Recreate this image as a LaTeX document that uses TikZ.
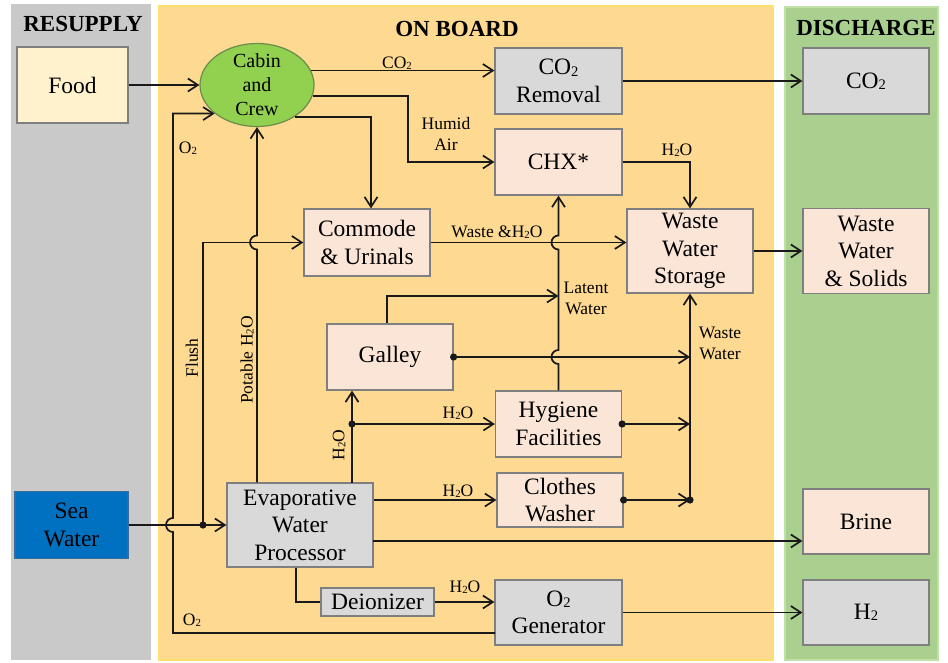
\documentclass[tikz,border=0pt]{standalone}
\usepackage{fontspec}
\setmainfont{Liberation Serif}
\newfontfamily\myserif{Liberation Serif}
\usetikzlibrary{arrows.meta,shapes.geometric,calc}
\definecolor{resup}{HTML}{C9C9C9}
\definecolor{onboard}{HTML}{FED991}
\definecolor{onboardedge}{HTML}{FFE070}
\definecolor{disch}{HTML}{A9D08E}
\definecolor{dischedge}{HTML}{C0E0A8}
\definecolor{gbox}{HTML}{D9D9D9}
\definecolor{pbox}{HTML}{FBE5D6}
\definecolor{ybox}{HTML}{FFF2CC}
\definecolor{bedge}{HTML}{7F7F7F}
\definecolor{crew}{HTML}{92D050}
\definecolor{crewedge}{HTML}{6A8C4C}
\definecolor{sea}{HTML}{0070C0}
\definecolor{seaedge}{HTML}{3A6A99}
\newcommand{\mysub}[1]{\raisebox{-0.12ex}{\scalebox{0.62}{#1}}}
\newcommand{\myboxfont}{\myserif\fontsize{23.5}{27.5}\selectfont}
\newcommand{\mycrewfont}{\myserif\fontsize{20}{24}\selectfont}
\newcommand{\mylblfont}{\myserif\fontsize{17.5}{21}\selectfont}
\newcommand{\myhdrfont}{\myserif\fontsize{23}{27}\selectfont\bfseries}
\tikzset{
  box/.style={draw=bedge, line width=1.2pt, align=center, inner sep=0pt, font=\myboxfont, text=black},
  gbx/.style={box, fill=gbox},
  pbx/.style={box, fill=pbox},
  lbl/.style={font=\mylblfont, inner sep=0pt, align=center, text=black},
  hdr/.style={font=\myhdrfont, inner sep=0pt, text=black},
  flow/.style={line width=1.7pt, draw=black!90, -{Straight Barb[length=10pt,width=13pt,line width=1.7pt]}},
  plain/.style={line width=1.7pt, draw=black!90},
  dotc/.style={fill=black!90}
}
\begin{document}
\begin{tikzpicture}[x=1pt,y=-1pt]
\useasboundingbox (0,0) rectangle (948,662);
% panels
\fill[white] (0,0) rectangle (948,662);
\fill[resup] (11,4) rectangle (151,660);
\filldraw[fill=onboard, draw=onboardedge, line width=1.2pt] (159,6) rectangle (773,660);
\filldraw[fill=disch, draw=dischedge, line width=1.2pt] (785,7) rectangle (938,660);
\node[hdr] (hres) at (83,24) {RESUPPLY};
\node[hdr] (hon) at (457,29) {ON BOARD};
\node[hdr] (hdis) at (866,28) {DISCHARGE};

% nodes
\node[box, fill=ybox, minimum width=111pt, minimum height=76pt] (food) at (72.5,85) {Food};
\node[ellipse, draw=crewedge, line width=1.2pt, fill=crew, minimum width=114pt, minimum height=83pt, inner sep=0pt,
      label={[font=\mycrewfont, align=center, text=black]center:Cabin\\and\\Crew}] (cabin) at (257,85) {};
\node[gbx, minimum width=127pt, minimum height=66pt] (co2rem) at (558.5,81) {CO\mysub{2}\\Removal};
\node[pbx, minimum width=127pt, minimum height=66pt] (chx) at (558.5,162) {CHX*};
\node[gbx, minimum width=126pt, minimum height=66pt] (co2out) at (866,81) {CO\mysub{2}};
\node[pbx, minimum width=126pt, minimum height=67pt] (commode) at (367,242.5) {Commode\\\& Urinals};
\node[pbx, minimum width=126pt, minimum height=84pt] (wws) at (690,251) {Waste\\Water\\Storage};
\node[pbx, minimum width=126pt, minimum height=85pt] (wwsol) at (866,251) {Waste\\Water\\\& Solids};
\node[pbx, minimum width=126pt, minimum height=66pt] (galley) at (390,357) {Galley};
\node[pbx, minimum width=126pt, minimum height=66pt] (hyg) at (558.5,424) {Hygiene\\Facilities};
\node[pbx, minimum width=126pt, minimum height=54pt] (clothes) at (560,500) {Clothes\\Washer};
\node[gbx, minimum width=146pt, minimum height=84pt] (ewp) at (300,525) {Evaporative\\Water\\Processor};
\node[box, fill=sea, draw=seaedge, minimum width=113pt, minimum height=67pt] (sea) at (71.5,525) {Sea\\Water};
\node[pbx, minimum width=126pt, minimum height=65pt] (brine) at (866,521.5) {Brine};
\node[gbx, minimum width=126pt, minimum height=65pt] (h2) at (866,612.5) {H\mysub{2}};
\node[gbx, minimum width=113pt, minimum height=28pt] (deion) at (377.5,602) {Deionizer};
\node[gbx, minimum width=127pt, minimum height=65pt] (o2gen) at (558.5,612.5) {O\mysub{2}\\Generator};

% coordinates
\coordinate (seadot) at (203,525);
\coordinate (hx) at (408,162);
\coordinate (latj) at (558.5,296);
\coordinate (wvbot) at (690,500);
\coordinate (ewpg) at (352,483);
\coordinate (h2odot) at (352,424);
\coordinate (brj) at (373,541);
\coordinate (o2out) at (495,633);
\coordinate (o2v) at (173,633);

% connectors
\draw[flow] (food.east) -- (food.east -| cabin.west);
\draw[flow] (cabin.15) -- (cabin.15 -| co2rem.west);
\draw[flow] (cabin.349) -| (hx) -- (chx.west);
\draw[flow] (cabin.320) -| ([xshift=4pt]commode.north);
\draw[flow] (co2rem.east) -- (co2out.west);
\draw[flow] (chx.east) -| (wws.north);
\draw[flow] (commode.east) -- (commode.east -| wws.west);
\draw[flow] (wws.east) -- (wwsol.west);
% latent water vertical with jumps
\draw[flow] (hyg.north) -- (558.5,364) arc[start angle=270,end angle=90,radius=7pt]
   -- (558.5,249.5) arc[start angle=270,end angle=90,radius=7pt] -- (chx.south);
\draw[flow] ([xshift=-3pt]galley.north) |- (latj);
% waste water collection
\draw[flow] (galley.east) -- (galley.east -| wws.south);
\draw[flow] (hyg.east) -- (hyg.east -| wws.south);
\draw[flow] (clothes.east) -- (wvbot);
\draw[flow] (wvbot) -- (wws.south);
% EWP outputs
\draw[flow] (ewpg) -- (ewpg |- galley.south);
\draw[flow] (h2odot) -- (hyg.west);
\draw[flow] (ewp.east |- clothes.west) -- (clothes.west);
\draw[flow] (brj) -- (brj -| brine.west);
\draw[plain] ([xshift=-4pt]ewp.south) |- (deion.west);
\draw[flow] (deion.east) -- (deion.east -| o2gen.west);
\draw[flow] (o2gen.east) -- (h2.west);
% potable water with jump
\draw[flow] ([xshift=-43pt]ewp.north) -- (257,249.5) arc[start angle=270,end angle=90,radius=7pt] -- (cabin.south);
% sea water and flush
\draw[flow] (sea.east) -- (ewp.west);
\draw[flow] (seadot) |- (commode.west);
% O2 loop with jump
\draw[flow] (o2out) -- (o2v) -- (173,532) arc[start angle=270,end angle=90,radius=7pt] |- (cabin.214);

% dots
\fill[dotc] (seadot) circle (3.6pt);
\fill[dotc] (galley.east) circle (3.6pt);
\fill[dotc] (hyg.east) circle (3.6pt);
\fill[dotc] (clothes.east) circle (3.6pt);
\fill[dotc] (wvbot) circle (3.6pt);
\fill[dotc] (h2odot) circle (3.6pt);

% labels
\node[lbl] (lco2) at (397,63) {CO\mysub{2}};
\node[lbl] (lhum) at (446,134) {Humid\\Air};
\node[lbl] (lchx) at (677,150) {H\mysub{2}O};
\node[lbl] (lwh) at (497,232) {Waste \&H\mysub{2}O};
\node[lbl] (llat) at (586,298) {Latent\\Water};
\node[lbl] (lww) at (720,343) {Waste\\Water};
\node[lbl] (lhy) at (458,413) {H\mysub{2}O};
\node[lbl] (lcl) at (458,491) {H\mysub{2}O};
\node[lbl] (ldi) at (465,587) {H\mysub{2}O};
\node[lbl] (lo2a) at (188,148) {O\mysub{2}};
\node[lbl] (lo2b) at (192,620) {O\mysub{2}};
\node[lbl, rotate=90] (lfl) at (192,358) {Flush};
\node[lbl, rotate=90] (lpot) at (247,360) {Potable H\mysub{2}O};
\node[lbl, rotate=90] (lgh) at (339,445) {H\mysub{2}O};
\end{tikzpicture}
\end{document}
